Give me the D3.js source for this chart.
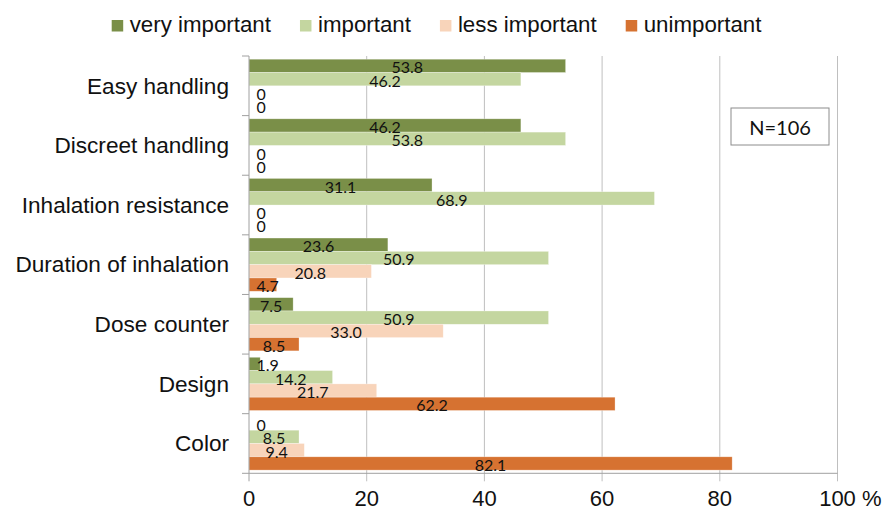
<!DOCTYPE html>
<html>
<head>
<meta charset="utf-8">
<script src="https://cdn.jsdelivr.net/npm/d3@7"></script>
<style>
  body { margin: 0; background: #fff; }
  svg { display: block; }
</style>
</head>
<body>
<svg id="chart" width="886" height="510"></svg>
<script>
const categories = ['Easy handling', 'Discreet handling', 'Inhalation resistance', 'Duration of inhalation', 'Dose counter', 'Design', 'Color'];
const seriesNames = ['very important', 'important', 'less important', 'unimportant'];
const veryImportant = [53.8, 46.2, 31.1, 23.6, 7.5, 1.9, 0];
const important = [46.2, 53.8, 68.9, 50.9, 50.9, 14.2, 8.5];
const lessImportant = [0, 0, 0, 20.8, 33.0, 21.7, 9.4];
const unimportant = [0, 0, 0, 4.7, 8.5, 62.2, 82.1];
const xTicks = [0, 20, 40, 60, 80, 100];
const sampleNote = 'N=106';

const colors = ['#7a8f48', '#c4d6a0', '#f8d4ba', '#d67231'];
const seriesValues = [veryImportant, important, lessImportant, unimportant];
const sansFont = "'Liberation Sans', Arial, sans-serif";
const labelFont = 'Lato, sans-serif';

const svg = d3.select('#chart');
const plotLeft = 249, plotRight = 837.5, plotTop = 56, plotBottom = 473.3;

const x = d3.scaleLinear().domain([0, 100]).range([plotLeft, plotRight]);
const y = d3.scaleBand().domain(categories).range([plotTop, plotBottom]);
const inner = d3.scaleBand().domain(seriesNames).range([0, y.bandwidth()]).paddingOuter(0.24);

// gridlines
svg.append('g').selectAll('line').data(xTicks.slice(1)).join('line')
    .attr('x1', d => x(d)).attr('x2', d => x(d))
    .attr('y1', plotTop).attr('y2', plotBottom + 8)
    .attr('stroke', '#bfbfbf').attr('stroke-width', 1);

// bars
const rows = categories.flatMap((cat, i) => seriesNames.map((s, j) => ({ cat, s, j, v: seriesValues[j][i] })));

svg.append('g').selectAll('rect').data(rows).join('rect')
    .attr('x', plotLeft)
    .attr('y', d => y(d.cat) + inner(d.s))
    .attr('width', d => x(d.v) - plotLeft)
    .attr('height', inner.bandwidth())
    .attr('fill', d => colors[d.j])
    .attr('stroke', d => d.v > 0 ? 'rgba(255,255,255,0.5)' : 'none')
    .attr('stroke-width', 0.6);

// axes
svg.append('line').attr('x1', plotLeft).attr('x2', plotLeft).attr('y1', plotTop).attr('y2', plotBottom + 8)
    .attr('stroke', '#a0a0a0');
svg.append('line').attr('x1', plotLeft).attr('x2', plotRight).attr('y1', plotBottom).attr('y2', plotBottom)
    .attr('stroke', '#a0a0a0');
svg.append('g').selectAll('line').data(d3.range(categories.length + 1)).join('line')
    .attr('x1', plotLeft - 7).attr('x2', plotLeft)
    .attr('y1', i => plotTop + i * y.step()).attr('y2', i => plotTop + i * y.step())
    .attr('stroke', '#a0a0a0');

// value labels
const labels = svg.append('g').selectAll('text').data(rows).join('text')
    .attr('font-family', labelFont)
    .attr('font-size', 16)
    .attr('fill', '#111')
    .attr('text-anchor', 'middle')
    .attr('dominant-baseline', 'central')
    .attr('y', d => y(d.cat) + inner(d.s) + inner.bandwidth() / 2 + 1)
    .text(d => d.v === 0 ? '0' : d.v.toFixed(1));
labels.attr('x', function (d) {
    const w = this.getComputedTextLength();
    return Math.max((x(d.v) + plotLeft) / 2, plotLeft + 7.5 + w / 2);
});

// category labels
svg.append('g').selectAll('text').data(categories).join('text')
    .attr('x', 229)
    .attr('y', d => y(d) + y.bandwidth() / 2 + 7.8)
    .attr('text-anchor', 'end')
    .attr('font-family', sansFont)
    .attr('font-size', 22.6)
    .attr('fill', '#111')
    .text(d => d);

// x tick labels
svg.append('g').selectAll('text').data(xTicks).join('text')
    .attr('x', d => x(d))
    .attr('y', 505.5)
    .attr('text-anchor', 'middle')
    .attr('font-family', sansFont)
    .attr('font-size', 22)
    .attr('fill', '#111')
    .text(d => d);
svg.append('text').attr('x', 862).attr('y', 505.5)
    .attr('font-family', sansFont)
    .attr('font-size', 22).attr('fill', '#111').text('%');

// legend
const legend = svg.append('g');
let lx = 111.7;
seriesNames.forEach((name, j) => {
    legend.append('rect').attr('x', lx).attr('y', 20).attr('width', 11.5).attr('height', 11.5).attr('fill', colors[j]);
    const t = legend.append('text').attr('x', lx + 18).attr('y', 32)
        .attr('font-family', sansFont)
        .attr('font-size', 22.3).attr('fill', '#111').text(name);
    lx += 18 + t.node().getComputedTextLength() + 29;
});

// N box
svg.append('rect').attr('x', 731).attr('y', 108).attr('width', 98).attr('height', 37)
    .attr('fill', '#fff').attr('stroke', '#8c8c8c').attr('stroke-width', 1);
svg.append('text').attr('x', 780).attr('y', 127).attr('text-anchor', 'middle')
    .attr('dominant-baseline', 'central')
    .attr('font-family', labelFont).attr('font-size', 20).attr('fill', '#111')
    .text(sampleNote);
</script>
</body>
</html>
